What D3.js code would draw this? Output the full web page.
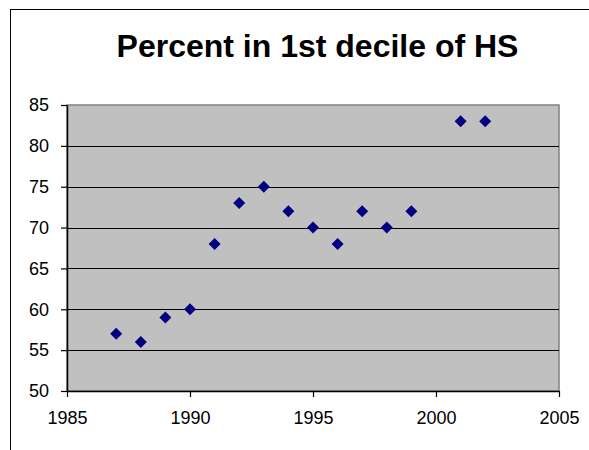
<!DOCTYPE html>
<html><head><meta charset="utf-8">
<script src="https://cdn.jsdelivr.net/npm/d3@7"></script>
<style>body{margin:0;background:#fff;}svg{display:block;}</style>
</head><body>
<svg id="c" width="589" height="450"></svg>
<script>
const years = [1987,1988,1989,1990,1991,1992,1993,1994,1995,1996,1997,1998,1999,2001,2002];
const percents = [57,56,59,60,68,73,75,72,70,68,72,70,72,83,83];
const xTicks = [1985,1990,1995,2000,2005];
const yTicks = [50,55,60,65,70,75,80,85];
const title = "Percent in 1st decile of HS";

const svg = d3.select("#c");
const L=67,R=559,T=105,B=391;
const x = d3.scaleLinear().domain([1985,2005]).range([L,R]);
const y = d3.scaleLinear().domain([50,85]).range([B,T]);

// outer border
svg.append("rect").attr("x",10.5).attr("y",9.5).attr("width",600).attr("height",460)
  .attr("fill","#fff").attr("stroke","#000").attr("stroke-width",1);

svg.append("text").attr("x",317.5).attr("y",57).attr("text-anchor","middle")
  .attr("font-family","Liberation Sans, Arial, sans-serif").attr("font-weight","bold")
  .attr("font-size",32).text(title);

svg.append("rect").attr("x",L).attr("y",T).attr("width",R-L).attr("height",B-T)
  .attr("fill","#c0c0c0").attr("stroke","#808080").attr("stroke-width",1.5);

// gridlines
svg.append("g").selectAll("line").data(yTicks.filter(v=>v>50&&v<85)).join("line")
  .attr("x1",L).attr("x2",R).attr("y1",d=>Math.round(y(d))+0.5).attr("y2",d=>Math.round(y(d))+0.5)
  .attr("stroke","#000").attr("stroke-width",1);

const yAxis = svg.append("g").attr("transform",`translate(${L},0)`)
  .call(d3.axisLeft(y).tickValues(yTicks).tickSize(6).tickSizeOuter(0).tickPadding(12));
const xAxis = svg.append("g").attr("transform",`translate(0,${B})`)
  .call(d3.axisBottom(x).tickValues(xTicks).tickFormat(d3.format("d")).tickSize(6).tickSizeOuter(0).tickPadding(14));
[yAxis,xAxis].forEach(a=>{
  a.attr("font-size",18).attr("font-family","Liberation Sans, Arial, sans-serif");
  a.selectAll("text").attr("fill","#000");
  a.select(".domain").attr("stroke","#000").attr("stroke-width",1.5);
  a.selectAll(".tick line").attr("stroke","#000").attr("stroke-width",1.2);
});

svg.append("g").selectAll("path").data(years.map((yr,i)=>[yr,percents[i]])).join("path")
  .attr("d", d3.symbol().type(d3.symbolSquare).size(72))
  .attr("transform",d=>`translate(${x(d[0])},${y(d[1])}) rotate(45)`)
  .attr("fill","#000080");
</script>
</body></html>
